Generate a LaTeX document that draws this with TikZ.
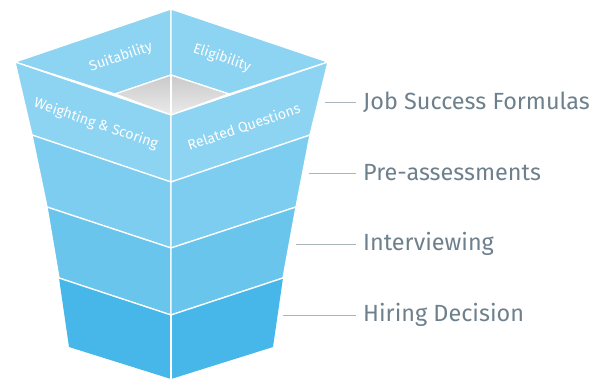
\documentclass[tikz,border=0pt]{standalone}
\usepackage{fontspec}
\setmainfont{Fira Sans}
\usepackage{tikz}

\definecolor{rimblue}{HTML}{8DD3F2}
\definecolor{layerA}{HTML}{8DD3F2}
\definecolor{layerB}{HTML}{7DCDF0}
\definecolor{layerC}{HTML}{6AC5EC}
\definecolor{layerD}{HTML}{46B7E8}
\definecolor{labelgray}{HTML}{6E808C}
\definecolor{tickgray}{HTML}{A9B4BB}

\tikzset{
  panel/.style={draw=white, line width=1.3pt, line join=round},
  facetext/.style={text=white, inner sep=0pt, font=\fontsize{14.3}{16}\selectfont},
  stagetext/.style={text=labelgray, anchor=west, inner sep=0pt,
    font=\fontsize{23.5}{26}\selectfont},
  tick/.style={draw=tickgray, line width=0.8pt}
}

\begin{document}
\begin{tikzpicture}[x=1bp, y=-1bp]
            \useasboundingbox (0,0) rectangle (600,379);

            % corners of the rim
            \coordinate (top) at (171,9);
            \coordinate (lt) at (15,62);
            \coordinate (rt) at (328,62);
            \coordinate (in1) at (171,75);
            \coordinate (inl) at (115,94);
            \coordinate (inr) at (229,94);
            \coordinate (c1) at (171,115);

            % corners down the two sides
            \coordinate (l2) at (32,135);  \coordinate (c2) at (171,182); \coordinate (r2) at (310,135);
            \coordinate (l3) at (47,207);  \coordinate (c3) at (171,248); \coordinate (r3) at (296,207);
            \coordinate (l4) at (59,278);  \coordinate (c4) at (171,315); \coordinate (r4) at (283,278);
            \coordinate (l5) at (69,347);  \coordinate (c5) at (171,379); \coordinate (r5) at (273,347);

            % back of the rim
            \filldraw [panel, fill=rimblue] (lt) -- (top) -- (in1) -- (inl) -- cycle;
            \filldraw [panel, fill=rimblue] (top) -- (rt) -- (inr) -- (in1) -- cycle;
            \shade [top color=black!21, bottom color=black!8] (in1) -- (inr) -- (c1) -- (inl) -- cycle;
            \draw [panel] (in1) -- (inr) -- (c1) -- (inl) -- cycle;
            \draw [panel] (in1) -- (c1);

            % the four layers
            \filldraw [panel, fill=layerA] (lt) -- (c1) -- (c2) -- (l2) -- cycle;
            \filldraw [panel, fill=layerA] (rt) -- (c1) -- (c2) -- (r2) -- cycle;
            \filldraw [panel, fill=layerB] (l2) -- (c2) -- (c3) -- (l3) -- cycle;
            \filldraw [panel, fill=layerB] (r2) -- (c2) -- (c3) -- (r3) -- cycle;
            \filldraw [panel, fill=layerC] (l3) -- (c3) -- (c4) -- (l4) -- cycle;
            \filldraw [panel, fill=layerC] (r3) -- (c3) -- (c4) -- (r4) -- cycle;
            \fill [layerD] (l4) -- (c4) -- (c5) -- (l5) -- cycle;
            \fill [layerD] (r4) -- (c4) -- (c5) -- (r5) -- cycle;
            \draw [panel] (l4) -- (c4) -- (r4);
            \draw [panel] (c4) -- (c5);

            % words on the faces
            \node [facetext, rotate=18.8] (suit) at (121,57) {Suitability};
            \node [facetext, rotate=-18.8] (elig) at (222,58) {Eligibility};
            \node [facetext, rotate=-18.8] (weig) at (96,124) {Weighting \& Scoring};
            \node [facetext, rotate=18.8] (rela) at (244,127) {Related Questions};

            % stages on the right
            \node [stagetext] (jsf) at (363,102) {Job Success Formulas};
            \node [stagetext] (pre) at (363,173) {Pre-assessments};
            \node [stagetext] (int) at (363,244) {Interviewing};
            \node [stagetext] (hir) at (363,315) {Hiring Decision};

            \coordinate (t1) at (325,102);
            \coordinate (t2) at (309,173);
            \coordinate (t3) at (296,244);
            \coordinate (t4) at (283,315);
            \draw [tick] (t1) -- ([xshift=-7bp]jsf.west);
            \draw [tick] (t2) -- ([xshift=-7bp]pre.west);
            \draw [tick] (t3) -- ([xshift=-7bp]int.west);
            \draw [tick] (t4) -- ([xshift=-7bp]hir.west);
    \end{tikzpicture}
\end{document}
